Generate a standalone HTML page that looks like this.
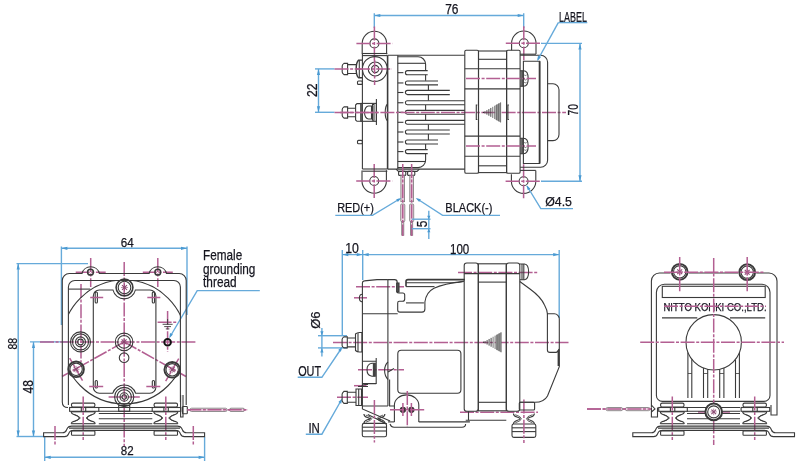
<!DOCTYPE html>
<html><head><meta charset="utf-8"><style>
*{margin:0;padding:0}
html,body{width:800px;height:470px;background:#fff;overflow:hidden}
svg{display:block;filter:blur(0.3px)}
.k{stroke:#3a3a3a;stroke-width:1.1;fill:none}
.c{stroke:#b35f92;stroke-width:1.5;fill:none;stroke-dasharray:14 1.6 3 1.6}
.d{stroke:#66aada;stroke-width:1.4;fill:none}
.ah{fill:#4a9ad2;stroke:none}
.tr{stroke:#777;stroke-width:0.8}
.trf{fill:#9a9a9a}
.s{stroke:#8c4a72;fill:none}
.w{stroke:#777;stroke-width:0.8;fill:#ecd3e0}
text{font-family:"Liberation Sans",sans-serif;fill:#15151f;stroke:#15151f;stroke-width:0.25}
</style></head>
<body><svg width="800" height="470" viewBox="0 0 800 470">
<line class="d" x1="374.3" y1="13.3" x2="374.3" y2="28" />
<line class="d" x1="523.7" y1="13.3" x2="523.7" y2="28" />
<line class="d" x1="374.3" y1="15.5" x2="523.7" y2="15.5" />
<path class="ah" d="M374.30,15.50 L380.30,13.90 L380.30,17.10 Z"/>
<path class="ah" d="M523.70,15.50 L517.70,17.10 L517.70,13.90 Z"/>
<text x="451.85" y="14.10" font-size="13.71" text-anchor="middle" textLength="13.27" lengthAdjust="spacingAndGlyphs">76</text>
<line class="d" x1="315" y1="68.9" x2="334.5" y2="68.9" />
<line class="d" x1="315" y1="112.3" x2="334.5" y2="112.3" />
<line class="d" x1="318.5" y1="68.9" x2="318.5" y2="112.3" />
<path class="ah" d="M318.50,68.90 L320.10,74.90 L316.90,74.90 Z"/>
<path class="ah" d="M318.50,112.30 L316.90,106.30 L320.10,106.30 Z"/>
<text x="316.60" y="90.30" font-size="13.71" text-anchor="middle" textLength="13.57" lengthAdjust="spacingAndGlyphs" transform="rotate(-90 316.60 90.30)" dy="0">22</text>
<path class="k" d="M362.2,53.9 V43.4 A12.2,12.2 0 0 1 386.59999999999997,43.4 V54.2" />
<circle class="k" cx="374.4" cy="43.4" r="4.5" />
<line class="c" x1="356.4" y1="43.4" x2="392.4" y2="43.4" />
<line class="c" x1="374.4" y1="26.4" x2="374.4" y2="60.4" />
<path class="k" d="M511.59999999999997,50.2 V43.2 A12.2,12.2 0 0 1 536.0,43.2 V54.0" />
<circle class="k" cx="523.8" cy="43.2" r="4.5" />
<line class="c" x1="505.79999999999995" y1="43.2" x2="541.8" y2="43.2" />
<line class="c" x1="523.8" y1="26.200000000000003" x2="523.8" y2="60.2" />
<path class="k" d="M362.0,170.5 V181.0 A12.2,12.2 0 0 0 386.4,181.0 V170.2" />
<circle class="k" cx="374.2" cy="181.0" r="4.5" />
<line class="c" x1="356.2" y1="181.0" x2="392.2" y2="181.0" />
<line class="c" x1="374.2" y1="164.0" x2="374.2" y2="198.0" />
<path class="k" d="M511.40000000000003,174.2 V181.2 A12.2,12.2 0 0 0 535.8000000000001,181.2 V170.39999999999998" />
<circle class="k" cx="523.6" cy="181.2" r="4.5" />
<line class="c" x1="505.6" y1="181.2" x2="541.6" y2="181.2" />
<line class="c" x1="523.6" y1="164.2" x2="523.6" y2="198.2" />
<line class="k" x1="362.4" y1="53.5" x2="362.4" y2="169" />
<line class="k" x1="362.4" y1="53.5" x2="387.3" y2="53.5" />
<line class="k" x1="362.4" y1="55.6" x2="387.3" y2="55.6" />
<line class="k" x1="362.4" y1="169" x2="387.3" y2="169" />
<line class="k" x1="362.4" y1="171.2" x2="387.3" y2="171.2" />
<circle class="k" cx="374.85" cy="69" r="12.4" />
<circle class="k" cx="375.2" cy="69" r="7" />
<circle class="k" cx="375.2" cy="69" r="3.6" />
<line class="c" x1="356" y1="69" x2="392" y2="69" />
<line class="c" x1="374.6" y1="60" x2="374.6" y2="85" />
<rect class="k" x="357.5" y="81" width="4.9" height="3.4" rx="1" />
<rect class="k" x="357.5" y="140.4" width="4.9" height="3.4" rx="1" />
<path class="k" d="M347.6,63.4 H344.0 Q342.2,64.7 342.2,65.9 V72.1 Q342.2,73.3 344.0,74.6 H347.6 Z" />
<path class="k" d="M347.5,64.6 H356.4 M347.5,73.5 H356.4" />
<path class="k" d="M362.4,60.1 H358.6 Q356.2,62 356.2,69 Q356.2,76 358.6,77.7 H362.4" style="stroke-width:1.4"/>
<line class="k" x1="359.3" y1="60.1" x2="359.3" y2="77.7" />
<line class="c" x1="334.5" y1="69" x2="362" y2="69" />
<path class="k" d="M347.6,106.9 H344.0 Q342.2,108.2 342.2,109.4 V115.6 Q342.2,116.8 344.0,118.1 H347.6 Z" />
<path class="k" d="M347.4,108.3 H355.6 M347.4,116.7 H355.6" />
<path class="k" d="M355.6,105 L357,103.6 H361 V121.3 H357 L355.6,120 Z" />
<rect class="k" x="361" y="103.4" width="15.4" height="17.9" rx="0" />
<path class="k" d="M368.5,106 A4,6.5 0 0 0 368.5,119 H371.5 V106 Z" />
<rect class="k" x="372.5" y="104.5" width="1.5" height="15.7" rx="0" />
<line class="k" x1="376.4" y1="99" x2="376.4" y2="125" />
<line class="c" x1="334.5" y1="112.5" x2="378" y2="112.5" />
<line class="k" x1="387.6" y1="55.3" x2="387.6" y2="169.1" style="stroke-width:1.6"/>
<path class="k" d="M387.6,104 Q385.2,106 385.2,112.5 Q385.2,119 387.6,121" />
<line class="k" x1="387.6" y1="55.3" x2="464.8" y2="55.3" />
<line class="k" x1="387.6" y1="169.1" x2="464.8" y2="169.1" />
<line class="k" x1="397.8" y1="55.3" x2="397.8" y2="169.1" />
<path class="k" d="M397.8,56.8 H418.1 A7.5,7.5 0 0 1 425.6,64.3 V80.8" />
<path class="k" d="M397.8,167.6 H418.1 A7.5,7.5 0 0 0 425.6,160.1 V143.8" />
<line class="k" x1="397.8" y1="63.3" x2="425.6" y2="63.3" />
<line class="k" x1="397.8" y1="161.5" x2="425.6" y2="161.5" />
<line class="k" x1="428.4" y1="84.9" x2="428.4" y2="100.8" />
<line class="k" x1="428.4" y1="124.2" x2="428.4" y2="140" />
<line class="k" x1="425.6" y1="104.7" x2="425.6" y2="120.4" />
<path class="k" d="M427.7,70.6 H407.45 A2.0500000000000043,2.0500000000000043 0 0 0 407.45,74.7 H427.7" style="fill:#fff"/>
<line class="k" x1="397.8" y1="72.65" x2="403.4" y2="72.65" />
<path class="k" d="M438,81 H407.34999999999997 A1.9500000000000028,1.9500000000000028 0 0 0 407.34999999999997,84.9 H438" style="fill:#fff"/>
<line class="k" x1="397.8" y1="82.95" x2="403.4" y2="82.95" />
<path class="k" d="M449.8,90.4 H407.5 A2.0999999999999943,2.0999999999999943 0 0 0 407.5,94.6 H449.8" style="fill:#fff"/>
<line class="k" x1="397.8" y1="92.5" x2="403.4" y2="92.5" />
<path class="k" d="M464.8,100.8 H407.34999999999997 A1.9500000000000028,1.9500000000000028 0 0 0 407.34999999999997,104.7 H464.8" style="fill:#fff"/>
<line class="k" x1="397.8" y1="102.75" x2="403.4" y2="102.75" />
<path class="k" d="M464.8,110.4 H407.29999999999995 A1.8999999999999986,1.8999999999999986 0 0 0 407.29999999999995,114.2 H464.8" style="fill:#fff"/>
<line class="k" x1="397.8" y1="112.30000000000001" x2="403.4" y2="112.30000000000001" />
<path class="k" d="M464.8,120.4 H407.29999999999995 A1.8999999999999986,1.8999999999999986 0 0 0 407.29999999999995,124.2 H464.8" style="fill:#fff"/>
<line class="k" x1="397.8" y1="122.30000000000001" x2="403.4" y2="122.30000000000001" />
<path class="k" d="M449.8,130 H407.4 A2.0,2.0 0 0 0 407.4,134 H449.8" style="fill:#fff"/>
<line class="k" x1="397.8" y1="132.0" x2="403.4" y2="132.0" />
<path class="k" d="M438,140 H407.4 A2.0,2.0 0 0 0 407.4,144 H438" style="fill:#fff"/>
<line class="k" x1="397.8" y1="142.0" x2="403.4" y2="142.0" />
<path class="k" d="M427.7,149.6 H407.4 A2.0,2.0 0 0 0 407.4,153.6 H427.7" style="fill:#fff"/>
<line class="k" x1="397.8" y1="151.6" x2="403.4" y2="151.6" />
<line class="c" x1="340" y1="112.4" x2="566" y2="112.4" />
<path class="k" d="M396,169.1 L398.5,171.4 H417 L419.4,169.1" />
<rect class="k" x="398.6" y="171.4" width="7.2" height="4" rx="1" />
<rect class="k" x="407.6" y="171.4" width="7.2" height="4" rx="1" />
<rect class="w" x="400.9" y="175.4" width="3.7" height="26.3" rx="0" />
<rect class="w" x="400.7" y="204" width="4.1" height="17.6" rx="1" />
<rect class="w" x="401.7" y="221.6" width="2.1" height="13.6" rx="0" />
<line class="c" x1="402.75" y1="164" x2="402.75" y2="236" />
<rect class="w" x="409.8" y="175.4" width="3.7" height="26.3" rx="0" />
<rect class="w" x="409.6" y="204" width="4.1" height="17.6" rx="1" />
<rect class="w" x="410.6" y="221.6" width="2.1" height="13.6" rx="0" />
<line class="c" x1="411.65000000000003" y1="164" x2="411.65000000000003" y2="236" />
<rect class="k" x="464.8" y="50.2" width="13.7" height="123" rx="1.3" />
<rect class="k" x="478.5" y="51" width="28.1" height="121.6" rx="0" />
<rect class="k" x="506.6" y="50.2" width="13.5" height="123" rx="1.3" />
<line class="k" x1="464.8" y1="68.8" x2="520.1" y2="68.8" />
<line class="k" x1="464.8" y1="88.9" x2="520.1" y2="88.9" />
<line class="k" x1="464.8" y1="136.1" x2="520.1" y2="136.1" />
<line class="k" x1="464.8" y1="156.2" x2="520.1" y2="156.2" />
<line class="k" x1="478.5" y1="59.3" x2="506.6" y2="59.3" />
<line class="k" x1="478.5" y1="165.8" x2="506.6" y2="165.8" />
<path class="trf" d="M495.40,105.35 L500.6,102.4 V122.4 L495.40,119.45 Z"/>
<line x1="484.96" y1="111.29" x2="484.96" y2="113.51" style="stroke:#333;stroke-width:0.9"/>
<line x1="486.91" y1="110.18" x2="486.91" y2="114.62" style="stroke:#333;stroke-width:0.9"/>
<line x1="488.87" y1="109.07" x2="488.87" y2="115.73" style="stroke:#333;stroke-width:0.9"/>
<line x1="490.82" y1="107.96" x2="490.82" y2="116.84" style="stroke:#333;stroke-width:0.9"/>
<line x1="492.78" y1="106.84" x2="492.78" y2="117.96" style="stroke:#666;stroke-width:0.9"/>
<line x1="494.73" y1="105.73" x2="494.73" y2="119.07" style="stroke:#666;stroke-width:0.9"/>
<line x1="496.69" y1="104.62" x2="496.69" y2="120.18" style="stroke:#666;stroke-width:0.9"/>
<line x1="498.64" y1="103.51" x2="498.64" y2="121.29" style="stroke:#666;stroke-width:0.9"/>
<line x1="500.60" y1="102.40" x2="500.60" y2="122.40" style="stroke:#666;stroke-width:0.9"/>
<circle cx="483.6" cy="112.4" r="0.7" style="fill:#333"/>
<path class="k" d="M477.3,105 H476.3 V119.5 H477.3" />
<path class="k" d="M508.9,105 H507.9 V119.5 H508.9" />
<path class="k" d="M520.1,70.7 H523.5 Q528.2,70.7 528.2,78.5 Q528.2,86.3 523.5,86.3 H520.1" />
<line class="k" x1="521.1" y1="70.7" x2="521.1" y2="86.3" />
<line class="k" x1="522.3" y1="70.7" x2="522.3" y2="86.3" />
<path class="k" d="M524.2,75.0 q1.2,1 2.4,0 M524.2,79.5 q1.2,1 2.4,0 M524.2,82.3 q1.2,1 2.4,0" style="stroke-width:0.7"/>
<line class="c" x1="466" y1="78.5" x2="536" y2="78.5" />
<path class="k" d="M520.1,138.2 H523.5 Q528.2,138.2 528.2,146 Q528.2,153.8 523.5,153.8 H520.1" />
<line class="k" x1="521.1" y1="138.2" x2="521.1" y2="153.8" />
<line class="k" x1="522.3" y1="138.2" x2="522.3" y2="153.8" />
<path class="k" d="M524.2,142.5 q1.2,1 2.4,0 M524.2,147 q1.2,1 2.4,0 M524.2,149.8 q1.2,1 2.4,0" style="stroke-width:0.7"/>
<line class="c" x1="466" y1="146" x2="536" y2="146" />
<path class="k" d="M520.1,54.2 H536" />
<path class="k" d="M520.1,170.4 H535.8" />
<path class="k" d="M523.4,163.5 V61.2 H539.6 V163.5 Z" />
<line class="k" x1="539.6" y1="61.2" x2="539.6" y2="163.5" style="stroke-width:1.8"/>
<path class="k" d="M520.1,55.3 H540.6 A7,7 0 0 1 547.6,62.3 V160.2 A7,7 0 0 1 540.6,167.2 H520.1" />
<path class="k" d="M547.6,83.8 H553 A6,6 0 0 1 559,89.8 V134.6 A6,6 0 0 1 553,140.6 H547.6" />
<line class="d" x1="541" y1="43.4" x2="582" y2="43.4" />
<line class="d" x1="541" y1="181.2" x2="582" y2="181.2" />
<line class="d" x1="580" y1="43.4" x2="580" y2="181.2" />
<path class="ah" d="M580.00,43.40 L581.60,49.40 L578.40,49.40 Z"/>
<path class="ah" d="M580.00,181.20 L578.40,175.20 L581.60,175.20 Z"/>
<text x="578.50" y="109.70" font-size="13.71" text-anchor="middle" textLength="11.57" lengthAdjust="spacingAndGlyphs" transform="rotate(-90 578.50 109.70)" dy="0">70</text>
<text x="573.05" y="21.60" font-size="13.86" text-anchor="middle" textLength="27.89" lengthAdjust="spacingAndGlyphs">LABEL</text>
<line class="d" x1="558.3" y1="22.6" x2="587.3" y2="22.6" />
<line class="d" x1="558.3" y1="22.6" x2="538" y2="59.5" />
<path class="ah" d="M537.20,61.00 L538.00,55.81 L540.87,57.24 Z"/>
<text x="558.60" y="206.40" font-size="13.57" text-anchor="middle" textLength="26.76" lengthAdjust="spacingAndGlyphs">Ø4.5</text>
<path class="d" d="M527,186 L540.8,208.6 H573" />
<path class="ah" d="M526.50,185.20 L530.47,188.63 L527.74,190.30 Z"/>
<text x="355.45" y="211.90" font-size="13.43" text-anchor="middle" textLength="36.64" lengthAdjust="spacingAndGlyphs">RED(+)</text>
<text x="468.90" y="211.90" font-size="13.43" text-anchor="middle" textLength="47.14" lengthAdjust="spacingAndGlyphs">BLACK(-)</text>
<path class="d" d="M335.3,215.4 H372.5 L399.5,199" />
<path class="ah" d="M401.30,198.00 L397.84,201.94 L396.19,199.20 Z"/>
<path class="d" d="M500,215.4 H442.6 L417.4,199" />
<path class="ah" d="M415.70,198.00 L420.81,199.20 L419.16,201.94 Z"/>
<line class="d" x1="411.8" y1="219.2" x2="430.5" y2="219.2" />
<line class="d" x1="411.8" y1="228.7" x2="430.5" y2="228.7" />
<line class="d" x1="428.8" y1="210.7" x2="428.8" y2="239" />
<path class="ah" d="M428.80,219.20 L427.20,215.70 L430.40,215.70 Z"/>
<path class="ah" d="M428.80,228.70 L430.40,232.20 L427.20,232.20 Z"/>
<text x="427.00" y="224.00" font-size="13.86" text-anchor="middle" textLength="6.59" lengthAdjust="spacingAndGlyphs" transform="rotate(-90 427.00 224.00)" dy="0">5</text>
<line class="d" x1="61.4" y1="246.5" x2="61.4" y2="325" />
<line class="d" x1="187" y1="246.5" x2="187" y2="315" />
<line class="d" x1="61.4" y1="248.3" x2="187" y2="248.3" />
<path class="ah" d="M61.40,248.30 L67.40,246.70 L67.40,249.90 Z"/>
<path class="ah" d="M187.00,248.30 L181.00,249.90 L181.00,246.70 Z"/>
<text x="127.20" y="247.00" font-size="13.43" text-anchor="middle" textLength="12.94" lengthAdjust="spacingAndGlyphs">64</text>
<line class="d" x1="16.5" y1="263.6" x2="88" y2="263.6" />
<line class="d" x1="16.5" y1="436.5" x2="44" y2="436.5" />
<line class="d" x1="18.2" y1="263.6" x2="18.2" y2="436.5" />
<path class="ah" d="M18.20,263.60 L19.80,269.60 L16.60,269.60 Z"/>
<path class="ah" d="M18.20,436.50 L16.60,430.50 L19.80,430.50 Z"/>
<text x="16.70" y="343.75" font-size="12.86" text-anchor="middle" textLength="11.59" lengthAdjust="spacingAndGlyphs" transform="rotate(-90 16.70 343.75)" dy="0">88</text>
<line class="d" x1="30" y1="341.9" x2="68" y2="341.9" />
<line class="d" x1="33.5" y1="341.9" x2="33.5" y2="436.5" />
<path class="ah" d="M33.50,341.90 L35.10,347.90 L31.90,347.90 Z"/>
<path class="ah" d="M33.50,436.50 L31.90,430.50 L35.10,430.50 Z"/>
<text x="32.70" y="386.80" font-size="13.71" text-anchor="middle" textLength="13.37" lengthAdjust="spacingAndGlyphs" transform="rotate(-90 32.70 386.80)" dy="0">48</text>
<line class="d" x1="44.7" y1="437" x2="44.7" y2="461" />
<line class="d" x1="204.6" y1="437" x2="204.6" y2="461" />
<line class="d" x1="44.7" y1="457.3" x2="204.6" y2="457.3" />
<path class="ah" d="M44.70,457.30 L50.70,455.70 L50.70,458.90 Z"/>
<path class="ah" d="M204.60,457.30 L198.60,458.90 L198.60,455.70 Z"/>
<text x="127.15" y="455.30" font-size="13.29" text-anchor="middle" textLength="12.83" lengthAdjust="spacingAndGlyphs">82</text>
<text x="222.65" y="259.60" font-size="14.29" text-anchor="middle" textLength="39.13" lengthAdjust="spacingAndGlyphs">Female</text>
<text x="229.25" y="273.80" font-size="14.29" text-anchor="middle" textLength="52.33" lengthAdjust="spacingAndGlyphs">grounding</text>
<text x="219.85" y="287.20" font-size="14.29" text-anchor="middle" textLength="33.53" lengthAdjust="spacingAndGlyphs">thread</text>
<path class="d" d="M259.8,290.6 H197.2 L170.2,336.5" />
<path class="ah" d="M169.30,338.20 L170.02,333.00 L172.91,334.38 Z"/>
<line class="c" x1="124.2" y1="262" x2="124.2" y2="446" />
<line class="c" x1="40" y1="341.9" x2="196" y2="341.9" />
<line class="c" x1="81" y1="284" x2="81" y2="362" />
<line class="c" x1="90.7" y1="258" x2="90.7" y2="287" />
<line class="c" x1="75.7" y1="272.3" x2="105.7" y2="272.3" />
<line class="c" x1="157.8" y1="258" x2="157.8" y2="287" />
<line class="c" x1="142.8" y1="272.3" x2="172.8" y2="272.3" />
<line class="c" x1="124.2" y1="341.9" x2="62" y2="376.5" />
<line class="c" x1="124.2" y1="341.9" x2="186" y2="376.5" />
<line class="c" x1="82.53462606936247" y1="380.5958216765086" x2="69.66537393063751" y2="358.00417832349143" />
<line class="c" x1="178.73284498462175" y1="358.56069680065076" x2="165.66715501537823" y2="381.03930319934926" />
<line class="c" x1="108.6" y1="397" x2="139.8" y2="397" />
<line class="c" x1="167.6" y1="311" x2="167.6" y2="352" />
<line class="c" x1="157.6" y1="322.3" x2="177.5" y2="322.3" />
<path class="k" d="M62.3,402 V280.5 A7,7 0 0 1 69.3,273.5 H82 A9,9 0 0 1 99.4,273.5 H149.1 A9,9 0 0 1 166.5,273.5 H179.2 A7,7 0 0 1 186.2,280.5 V405" />
<circle class="k" cx="90.5" cy="272.2" r="2.9" style="stroke-width:1.5"/>
<circle class="k" cx="157.8" cy="272.2" r="2.9" style="stroke-width:1.5"/>
<path class="k" d="M62.3,402 Q62.3,407.5 68,407.5" />
<path class="k" d="M68.4,405 V287 A6.5,6.5 0 0 1 74.9,280.5 H173.9 A6.5,6.5 0 0 1 180.4,287 V402" />
<clipPath id="cl1"><rect x="68.4" y="280.5" width="112" height="128"/></clipPath>
<circle class="k" cx="124.2" cy="341.9" r="62" clip-path="url(#cl1)"/>
<line class="k" x1="68.4" y1="289.1" x2="90.3" y2="289.1" />
<path class="k" d="M93.3,296 A6,6 0 0 1 99.3,290 H113 A11.5,11.5 0 0 0 135.4,290 H149.9 A6,6 0 0 1 155.9,296 V387.2 A6,6 0 0 1 149.9,393.2 H135.6 A12,12 0 0 0 112.8,393.2 H99.3 A6,6 0 0 1 93.3,387.2 Z" />
<rect class="k" x="95.2" y="292" width="2.2" height="11" rx="1.1" />
<rect class="k" x="95.2" y="380.5" width="2.2" height="7.5" rx="1.1" />
<line class="c" x1="90.2" y1="297.5" x2="103.2" y2="297.5" />
<line class="c" x1="89.2" y1="386.5" x2="103.2" y2="386.5" />
<rect class="k" x="152.3" y="292" width="2.2" height="11" rx="1.1" />
<rect class="k" x="152.3" y="380.5" width="2.2" height="7.5" rx="1.1" />
<line class="c" x1="147.3" y1="297.5" x2="160.3" y2="297.5" />
<line class="c" x1="146.3" y1="386.5" x2="160.3" y2="386.5" />
<circle class="k" cx="124.5" cy="287.5" r="8.4" style="stroke-width:1.6"/>
<circle class="k" cx="124.5" cy="287.5" r="6.3" />
<line class="s" x1="122.03" y1="285.03" x2="126.97" y2="289.97" style="stroke-width:1.1"/>
<line class="s" x1="126.97" y1="285.03" x2="122.03" y2="289.97" style="stroke-width:1.1"/>
<line class="s" x1="121.00" y1="287.50" x2="128.00" y2="287.50" style="stroke-width:0.6"/>
<line class="s" x1="124.50" y1="284.00" x2="124.50" y2="291.00" style="stroke-width:0.6"/>
<circle class="k" cx="76.1" cy="369.3" r="7.8" style="stroke-width:1.9"/>
<circle class="k" cx="76.1" cy="369.3" r="6.2" />
<line class="s" x1="73.69" y1="366.89" x2="78.51" y2="371.71" style="stroke-width:1.1"/>
<line class="s" x1="78.51" y1="366.89" x2="73.69" y2="371.71" style="stroke-width:1.1"/>
<line class="s" x1="72.69" y1="369.30" x2="79.51" y2="369.30" style="stroke-width:0.6"/>
<line class="s" x1="76.10" y1="365.89" x2="76.10" y2="372.71" style="stroke-width:0.6"/>
<circle class="k" cx="172.2" cy="369.8" r="7.8" style="stroke-width:1.9"/>
<circle class="k" cx="172.2" cy="369.8" r="6.2" />
<line class="s" x1="169.79" y1="367.39" x2="174.61" y2="372.21" style="stroke-width:1.1"/>
<line class="s" x1="174.61" y1="367.39" x2="169.79" y2="372.21" style="stroke-width:1.1"/>
<line class="s" x1="168.79" y1="369.80" x2="175.61" y2="369.80" style="stroke-width:0.6"/>
<line class="s" x1="172.20" y1="366.39" x2="172.20" y2="373.21" style="stroke-width:0.6"/>
<circle class="k" cx="124.1" cy="341.9" r="8.8" />
<circle class="k" cx="124.1" cy="341.9" r="6.4" />
<line class="s" x1="121.61" y1="339.41" x2="126.59" y2="344.39" style="stroke-width:1.1"/>
<line class="s" x1="126.59" y1="339.41" x2="121.61" y2="344.39" style="stroke-width:1.1"/>
<line class="s" x1="120.58" y1="341.90" x2="127.62" y2="341.90" style="stroke-width:0.6"/>
<line class="s" x1="124.10" y1="338.38" x2="124.10" y2="345.42" style="stroke-width:0.6"/>
<circle class="k" cx="124.1" cy="357.7" r="4.8" />
<circle class="k" cx="80.5" cy="341.9" r="10" />
<circle class="k" cx="80.5" cy="341.9" r="8" />
<circle class="k" cx="80.5" cy="341.9" r="5" />
<circle class="k" cx="80.5" cy="341.9" r="2.8" />
<circle class="k" cx="124.2" cy="397" r="9.6" />
<circle class="k" cx="124.2" cy="397" r="7.2" />
<circle class="k" cx="124.2" cy="397" r="4.2" />
<circle class="k" cx="124.2" cy="397" r="2.2" />
<circle class="k" cx="167.6" cy="342.3" r="3.3" style="stroke-width:1.9;stroke:#111"/>
<line class="k" x1="162.6" y1="324.3" x2="172.6" y2="324.3" style="stroke-width:0.9"/>
<line class="k" x1="164.2" y1="326.6" x2="171.0" y2="326.6" style="stroke-width:0.9"/>
<line class="k" x1="165.79999999999998" y1="328.9" x2="169.4" y2="328.9" style="stroke-width:0.9"/>
<line class="k" x1="167.6" y1="319" x2="167.6" y2="324.3" style="stroke-width:0.9"/>
<rect class="k" x="71.5" y="403.1" width="23.4" height="3.9" rx="1.5" />
<rect class="k" x="69.60000000000001" y="407.5" width="29.2" height="3.8" rx="0" />
<line class="k" x1="81.3" y1="407.5" x2="81.3" y2="411.3" />
<line class="k" x1="85.7" y1="407.5" x2="85.7" y2="411.3" />
<path class="k" d="M71.2,411.8 Q71.2,414 75.2,415 Q79.2,416.5 79.2,418 Q79.2,419.5 75.2,421 Q71.2,422 71.2,423.7" />
<path class="k" d="M73.7,414.3 Q78.0,415.6 80.4,418 Q78.0,420.4 73.7,421.6" style="stroke-width:0.8"/>
<path class="k" d="M95.2,411.8 Q95.2,414 91.2,415 Q87.2,416.5 87.2,418 Q87.2,419.5 91.2,421 Q95.2,422 95.2,423.7" />
<path class="k" d="M92.7,414.3 Q88.4,415.6 86.0,418 Q88.4,420.4 92.7,421.6" style="stroke-width:0.8"/>
<line class="k" x1="71.2" y1="411.8" x2="95.2" y2="411.8" />
<line class="k" x1="71.2" y1="423.7" x2="95.2" y2="423.7" />
<line class="c" x1="83.2" y1="396.5" x2="83.2" y2="440" />
<rect class="k" x="154.10000000000002" y="403.1" width="23.4" height="3.9" rx="1.5" />
<rect class="k" x="152.20000000000002" y="407.5" width="28.6" height="3.8" rx="0" />
<line class="k" x1="163.9" y1="407.5" x2="163.9" y2="411.3" />
<line class="k" x1="168.3" y1="407.5" x2="168.3" y2="411.3" />
<path class="k" d="M153.8,411.8 Q153.8,414 157.8,415 Q161.8,416.5 161.8,418 Q161.8,419.5 157.8,421 Q153.8,422 153.8,423.7" />
<path class="k" d="M156.3,414.3 Q160.60000000000002,415.6 163.0,418 Q160.60000000000002,420.4 156.3,421.6" style="stroke-width:0.8"/>
<path class="k" d="M177.8,411.8 Q177.8,414 173.8,415 Q169.8,416.5 169.8,418 Q169.8,419.5 173.8,421 Q177.8,422 177.8,423.7" />
<path class="k" d="M175.3,414.3 Q171.0,415.6 168.60000000000002,418 Q171.0,420.4 175.3,421.6" style="stroke-width:0.8"/>
<line class="k" x1="153.8" y1="411.8" x2="177.8" y2="411.8" />
<line class="k" x1="153.8" y1="423.7" x2="177.8" y2="423.7" />
<line class="c" x1="165.8" y1="396.5" x2="165.8" y2="440" />
<line class="k" x1="98.8" y1="413.5" x2="152.3" y2="413.5" />
<line class="k" x1="98.8" y1="418.7" x2="152.3" y2="418.7" />
<line class="k" x1="98.8" y1="423.7" x2="152.3" y2="423.7" />
<line class="k" x1="98.8" y1="407.5" x2="152.3" y2="407.5" />
<line class="k" x1="98.8" y1="411.3" x2="152.3" y2="411.3" />
<rect class="k" x="118.7" y="405.5" width="11" height="5.8" rx="0" />
<path class="k" d="M43.6,432.8 H62.5 Q65.5,432.8 66.5,430 L67.5,428 Q68.5,426.1 71.5,426.1 H177.5 Q180.5,426.1 181.5,428 L182.5,430 Q183.5,432.8 186.5,432.8 H204.6 V436.6 H184.5 Q181.5,436.6 180.5,434 L179.5,432 Q178.5,430.4 175.5,430.4 H73.5 Q70.5,430.4 69.5,432 L68.5,434 Q67.5,436.6 64.5,436.6 H43.6 Z" />
<line class="k" x1="69" y1="428.1" x2="180" y2="428.1" />
<rect class="k" x="71.5" y="430.9" width="23.4" height="4.3" rx="0.8" />
<rect class="k" x="154.10000000000002" y="430.9" width="23.4" height="4.3" rx="0.8" />
<line class="c" x1="55" y1="426" x2="55" y2="446" />
<line class="c" x1="193.3" y1="426" x2="193.3" y2="446" />
<path class="k" d="M180.6,395 V417 H183 V395" />
<rect class="k" x="182.5" y="406.5" width="4.8" height="7.2" rx="0.8" />
<line class="c" x1="187.3" y1="409.8" x2="248" y2="409.8" />
<rect class="w" x="190" y="408.2" width="37" height="3.3" rx="1.5" />
<rect class="w" x="229.5" y="408.2" width="15" height="3.3" rx="1.5" />
<line class="c" x1="187.3" y1="409.8" x2="248" y2="409.8" />
<line class="d" x1="342.3" y1="250" x2="342.3" y2="336" />
<line class="d" x1="362.7" y1="250" x2="362.7" y2="280" />
<line class="d" x1="559.2" y1="250" x2="559.2" y2="318" />
<line class="d" x1="342.3" y1="254.6" x2="558.9" y2="254.6" />
<path class="ah" d="M342.30,254.60 L348.30,253.00 L348.30,256.20 Z"/>
<path class="ah" d="M362.70,254.60 L356.70,256.20 L356.70,253.00 Z"/>
<path class="ah" d="M362.70,254.60 L368.70,253.00 L368.70,256.20 Z"/>
<path class="ah" d="M559.20,254.60 L553.20,256.20 L553.20,253.00 Z"/>
<text x="352.05" y="252.80" font-size="13.86" text-anchor="middle" textLength="13.69" lengthAdjust="spacingAndGlyphs">10</text>
<text x="459.65" y="253.80" font-size="13.86" text-anchor="middle" textLength="19.29" lengthAdjust="spacingAndGlyphs">100</text>
<line class="d" x1="318" y1="335.7" x2="347" y2="335.7" />
<line class="d" x1="318" y1="347.9" x2="347" y2="347.9" />
<line class="d" x1="321.9" y1="328" x2="321.9" y2="356.6" />
<path class="ah" d="M321.90,335.70 L320.30,331.20 L323.50,331.20 Z"/>
<path class="ah" d="M321.90,347.90 L323.50,352.40 L320.30,352.40 Z"/>
<text x="320.40" y="320.10" font-size="13.14" text-anchor="middle" textLength="17.31" lengthAdjust="spacingAndGlyphs" transform="rotate(-90 320.40 320.10)" dy="0">Ø6</text>
<text x="309.65" y="375.60" font-size="14.29" text-anchor="middle" textLength="22.93" lengthAdjust="spacingAndGlyphs">OUT</text>
<path class="d" d="M297.7,377.3 H321.9 L341,349" />
<path class="ah" d="M342.30,346.80 L340.87,351.85 L338.20,350.08 Z"/>
<text x="314.15" y="432.80" font-size="13.86" text-anchor="middle" textLength="11.49" lengthAdjust="spacingAndGlyphs">IN</text>
<path class="d" d="M305.8,434.2 H321.9 L340.8,401" />
<path class="ah" d="M342.30,398.50 L341.17,403.63 L338.40,402.02 Z"/>
<line class="c" x1="333" y1="342.4" x2="568.5" y2="342.4" />
<line class="c" x1="356" y1="286.7" x2="404" y2="286.7" />
<line class="c" x1="354" y1="297.8" x2="367" y2="297.8" />
<line class="c" x1="458" y1="272.6" x2="538" y2="272.6" />
<line class="c" x1="358" y1="369.8" x2="404" y2="369.8" />
<line class="c" x1="460" y1="412.2" x2="538" y2="412.2" />
<line class="c" x1="337" y1="397.2" x2="368" y2="397.2" />
<line class="c" x1="354" y1="385.7" x2="366.5" y2="385.7" />
<path class="k" d="M362.4,406 V283 Q362.4,281 364.4,280.9 L377,279.6 H387.9" />
<line class="k" x1="387.9" y1="279.6" x2="387.9" y2="406" />
<path class="k" d="M387.9,279.6 H394.6 A2.6,2.6 0 0 1 397.2,282.2 V291.7 Q397.2,293 399,293 H402.7 Q404.7,293 404.7,295 V299 Q404.7,301.3 402.5,301.3 H399.2 Q397.7,301.3 397.7,303 V310 Q397.7,312.1 400,312.1 H422 Q424.9,312.1 424.9,309 V302 C425.6,296 427.5,291.5 434,288.2 C440,285.4 450,283 463.8,281.4" />
<rect class="k" x="396.7" y="283" width="2.3" height="9" rx="0" style="fill:#555"/>
<path class="k" d="M406,286.6 V281.6 Q406,279.6 408,279.6 H464.8" style="stroke-width:1.6"/>
<path class="k" d="M406,282.8 H452 Q458,282.8 463.8,281.2" />
<path class="k" d="M406,286.6 H434.5" />
<line class="k" x1="406" y1="302.9" x2="423.9" y2="302.9" />
<line class="k" x1="362.7" y1="313.8" x2="397.7" y2="313.8" />
<path class="k" d="M362.4,294.2 A3,3.85 0 0 0 362.4,301.9" />
<rect class="k" x="397.8" y="350.2" width="63.1" height="43" rx="3.5" />
<path class="k" d="M375.3,363.3 H372 Q367,364 367,369.8 Q367,375.6 372,376.3 H375.3 Z" />
<line class="k" x1="373.4" y1="363.3" x2="373.4" y2="376.3" />
<line class="k" x1="374.4" y1="363.3" x2="374.4" y2="376.3" />
<path class="k" d="M362.4,361.3 H376.2 M362.4,383.6 H376.2" />
<line class="k" x1="376.2" y1="358" x2="376.2" y2="384" />
<path class="k" d="M388,362 Q384.6,365 384.6,370.5 Q384.6,376 388,379.5 M388,372 L394,368.5" />
<line class="k" x1="389.6" y1="379.5" x2="389.6" y2="406" />
<path class="k" d="M347.3,336.9 H343.90000000000003 Q342.1,338.2 342.1,339.4 V345.4 Q342.1,346.59999999999997 343.90000000000003,347.9 H347.3 Z" />
<path class="k" d="M347.2,338 H355.5 M347.2,346.9 H355.5" />
<path class="k" d="M355.5,334 Q357,332.5 359.5,332.5 H361.9 V352 H359.5 Q357,352 355.5,350.5 Z" />
<line class="k" x1="358" y1="333" x2="358" y2="351.5" />
<path class="k" d="M347.3,391.4 H343.90000000000003 Q342.1,393.09999999999997 342.1,394.29999999999995 V400.5 Q342.1,401.7 343.90000000000003,403.4 H347.3 Z" />
<path class="k" d="M347.2,392.3 H356 M347.2,402.2 H356" />
<path class="k" d="M356,389 H361.5 V405.5 H356 Z" />
<line class="k" x1="358.7" y1="389" x2="358.7" y2="405.5" />
<path class="k" d="M361.5,386.5 Q362.4,384.5 365,384.5 H368 M358,386.5 H368" />
<path class="k" d="M362.4,406 V409 L390.1,420.9 M367.8,414.5 L386.9,424" />
<path class="k" d="M362.4,406 H387.9 M389,406 H394.4" />
<path class="k" d="M394.4,421.9 V405 A12.2,10.1 0 0 1 418.8,405 V421.9" />
<circle class="k" cx="402.9" cy="409.8" r="2.6" style="fill:#4a2a3a"/>
<circle class="k" cx="411.4" cy="409.8" r="2.6" style="fill:#4a2a3a"/>
<line class="c" x1="407.3" y1="391" x2="407.3" y2="427" />
<line class="c" x1="390" y1="409.8" x2="425" y2="409.8" />
<line class="c" x1="402.9" y1="403" x2="402.9" y2="416" />
<line class="c" x1="411.4" y1="403" x2="411.4" y2="416" />
<path class="k" d="M418.8,421.9 H469.9" />
<path class="k" d="M390,424 Q391,427.2 394,427.2 H462 Q465.6,427.2 465.6,424" />
<line class="k" x1="394.4" y1="421.9" x2="388" y2="421.9" />
<rect class="k" x="464.2" y="263" width="14.1" height="148.3" rx="2.6" />
<rect class="k" x="478.3" y="263.8" width="28" height="147" rx="0" />
<rect class="k" x="506.3" y="263" width="13.5" height="148.3" rx="2.6" />
<line class="k" x1="478.3" y1="282.1" x2="506.3" y2="282.1" />
<line class="k" x1="464.2" y1="273.6" x2="519.8" y2="273.6" />
<line class="k" x1="478.3" y1="402.3" x2="506.3" y2="402.3" />
<line class="k" x1="465.7" y1="420.2" x2="506.3" y2="420.2" />
<path class="trf" d="M495.90,335.19 L501.1,332.3 V352.3 L495.90,349.41 Z"/>
<line x1="485.10" y1="341.19" x2="485.10" y2="343.41" style="stroke:#333;stroke-width:0.9"/>
<line x1="487.10" y1="340.08" x2="487.10" y2="344.52" style="stroke:#333;stroke-width:0.9"/>
<line x1="489.10" y1="338.97" x2="489.10" y2="345.63" style="stroke:#333;stroke-width:0.9"/>
<line x1="491.10" y1="337.86" x2="491.10" y2="346.74" style="stroke:#333;stroke-width:0.9"/>
<line x1="493.10" y1="336.74" x2="493.10" y2="347.86" style="stroke:#666;stroke-width:0.9"/>
<line x1="495.10" y1="335.63" x2="495.10" y2="348.97" style="stroke:#666;stroke-width:0.9"/>
<line x1="497.10" y1="334.52" x2="497.10" y2="350.08" style="stroke:#666;stroke-width:0.9"/>
<line x1="499.10" y1="333.41" x2="499.10" y2="351.19" style="stroke:#666;stroke-width:0.9"/>
<line x1="501.10" y1="332.30" x2="501.10" y2="352.30" style="stroke:#666;stroke-width:0.9"/>
<circle cx="483.70000000000005" cy="342.3" r="0.7" style="fill:#333"/>
<path class="k" d="M519.8,264 H524.5 Q528.6,264.5 528.6,271.8 Q528.6,279.2 524.5,279.7 H519.8" />
<line class="k" x1="522" y1="264" x2="522" y2="279.7" />
<line class="k" x1="523.8" y1="264" x2="523.8" y2="279.7" />
<path class="k" d="M519.8,281.5 L530,289 Q541,297 544.5,305 Q547.2,310 547.4,313.8 H554.3 A5,5 0 0 1 559.3,318.8 V366.6 L547.5,396 Q544,402.3 535,402.3 H519.8" />
<path class="k" d="M547.4,313.8 V350 Q547.4,352.4 550,352.4 H556 Q558,352.4 559,349" />
<line class="k" x1="558.5" y1="350" x2="558.5" y2="366" style="stroke-width:1.8"/>
<path class="k" d="M363.9,413.9 Q363.9,416.4 367.4,417.5 Q370.59999999999997,418.5 370.59999999999997,418.65 Q370.59999999999997,418.79999999999995 367.4,419.79999999999995 Q363.9,420.9 363.9,423.4" />
<path class="k" d="M365.79999999999995,415.09999999999997 Q371.79999999999995,416.9 371.79999999999995,418.65 Q371.79999999999995,420.4 365.79999999999995,422.2" style="stroke-width:0.8"/>
<path class="k" d="M384.9,413.9 Q384.9,416.4 381.4,417.5 Q378.2,418.5 378.2,418.65 Q378.2,418.79999999999995 381.4,419.79999999999995 Q384.9,420.9 384.9,423.4" />
<path class="k" d="M383.0,415.09999999999997 Q377.0,416.9 377.0,418.65 Q377.0,420.4 383.0,422.2" style="stroke-width:0.8"/>
<rect class="k" x="362.29999999999995" y="423.4" width="24.2" height="13.4" rx="1.8" />
<line class="k" x1="362.29999999999995" y1="427.2" x2="386.5" y2="427.2" />
<line class="k" x1="362.29999999999995" y1="431.0" x2="386.5" y2="431.0" />
<line class="c" x1="374.4" y1="399.9" x2="374.4" y2="442.4" />
<path class="k" d="M513.4,413.5 Q513.4,416.0 516.9,417.1 Q520.1,418.1 520.1,418.75 Q520.1,419.4 516.9,420.4 Q513.4,421.5 513.4,424.0" />
<path class="k" d="M515.3,414.7 Q521.3,416.5 521.3,418.75 Q521.3,421.0 515.3,422.8" style="stroke-width:0.8"/>
<path class="k" d="M534.4,413.5 Q534.4,416.0 530.9,417.1 Q527.6999999999999,418.1 527.6999999999999,418.75 Q527.6999999999999,419.4 530.9,420.4 Q534.4,421.5 534.4,424.0" />
<path class="k" d="M532.5,414.7 Q526.5,416.5 526.5,418.75 Q526.5,421.0 532.5,422.8" style="stroke-width:0.8"/>
<rect class="k" x="512.0" y="424.0" width="23.8" height="13.4" rx="1.8" />
<line class="k" x1="512.0" y1="427.8" x2="535.8" y2="427.8" />
<line class="k" x1="512.0" y1="431.6" x2="535.8" y2="431.6" />
<line class="c" x1="523.9" y1="399.5" x2="523.9" y2="443.0" />
<rect class="k" x="519.3" y="402.3" width="15.3" height="7.7" rx="1" />
<line class="k" x1="468.5" y1="411.3" x2="468.5" y2="420.2" />
<path class="k" d="M651.4,407.5 V281 A8,8 0 0 1 659.4,273 H670.6 M688.6,273 H738.2 M756.2,273 H769 A8,8 0 0 1 777,281 V405" />
<path class="k" d="M656.4,395.4 V292.3 A8,8 0 0 1 664.4,284.3 H762 A8,8 0 0 1 770,292.3 V395.4 A6,6 0 0 1 764,401.4 H662.4 A6,6 0 0 1 656.4,395.4 Z" />
<rect class="k" x="662.3" y="286.3" width="102.9" height="11.2" rx="0" />
<text x="715.00" y="310.70" font-size="11.29" text-anchor="middle" textLength="103.13" lengthAdjust="spacingAndGlyphs">NITTO KOHKI CO.,LTD.</text>
<line class="k" x1="662" y1="317.9" x2="697.3" y2="317.9" />
<line class="k" x1="730" y1="317.9" x2="765.2" y2="317.9" />
<circle class="k" cx="713.7" cy="342.3" r="27.7" />
<line class="k" x1="687.9" y1="352.38216246645516" x2="687.9" y2="398" />
<line class="k" x1="691.8" y1="359.26113203769125" x2="691.8" y2="398" />
<line class="k" x1="687.9" y1="373.5" x2="691.8" y2="373.5" style="stroke-width:0.8"/>
<line class="k" x1="703.5" y1="368.0536405193518" x2="703.5" y2="398" />
<line class="k" x1="707.7" y1="369.3423741561277" x2="707.7" y2="398" />
<line class="k" x1="703.5" y1="373.5" x2="707.7" y2="373.5" style="stroke-width:0.8"/>
<line class="k" x1="719.7" y1="369.3423741561277" x2="719.7" y2="398" />
<line class="k" x1="723.9" y1="368.05364051935186" x2="723.9" y2="398" />
<line class="k" x1="719.7" y1="373.5" x2="723.9" y2="373.5" style="stroke-width:0.8"/>
<line class="k" x1="735.5" y1="359.3894704423514" x2="735.5" y2="398" />
<line class="k" x1="739.4" y1="352.6344085462112" x2="739.4" y2="398" />
<line class="k" x1="735.5" y1="373.5" x2="739.4" y2="373.5" style="stroke-width:0.8"/>
<circle class="k" cx="679.7" cy="271.8" r="7.8999999999999995" style="stroke-width:1.9"/>
<circle class="k" cx="679.7" cy="271.8" r="6.2" />
<line class="s" x1="677.29" y1="269.39" x2="682.11" y2="274.21" style="stroke-width:1.1"/>
<line class="s" x1="682.11" y1="269.39" x2="677.29" y2="274.21" style="stroke-width:1.1"/>
<line class="s" x1="676.29" y1="271.80" x2="683.11" y2="271.80" style="stroke-width:0.6"/>
<line class="s" x1="679.70" y1="268.39" x2="679.70" y2="275.21" style="stroke-width:0.6"/>
<circle class="k" cx="747.2" cy="272.2" r="7.8999999999999995" style="stroke-width:1.9"/>
<circle class="k" cx="747.2" cy="272.2" r="6.2" />
<line class="s" x1="744.79" y1="269.79" x2="749.61" y2="274.61" style="stroke-width:1.1"/>
<line class="s" x1="749.61" y1="269.79" x2="744.79" y2="274.61" style="stroke-width:1.1"/>
<line class="s" x1="743.79" y1="272.20" x2="750.61" y2="272.20" style="stroke-width:0.6"/>
<line class="s" x1="747.20" y1="268.79" x2="747.20" y2="275.61" style="stroke-width:0.6"/>
<line class="c" x1="640.2" y1="342.2" x2="784" y2="342.2" />
<line class="c" x1="664" y1="306.3" x2="766" y2="306.3" />
<line class="c" x1="713.7" y1="258" x2="713.7" y2="445" />
<line class="c" x1="679.7" y1="257" x2="679.7" y2="292" />
<line class="c" x1="747.2" y1="257" x2="747.2" y2="292" />
<line class="c" x1="664" y1="272.2" x2="764" y2="272.2" />
<line class="c" x1="698" y1="411.9" x2="730" y2="411.9" />
<rect class="k" x="660.5999999999999" y="403.1" width="23.4" height="3.9" rx="1.5" />
<rect class="k" x="658.6999999999999" y="407.5" width="28.6" height="3.8" rx="0" />
<line class="k" x1="670.4" y1="407.5" x2="670.4" y2="411.3" />
<line class="k" x1="674.8" y1="407.5" x2="674.8" y2="411.3" />
<path class="k" d="M660.3,411.8 Q660.3,414 664.3,415 Q668.3,416.5 668.3,418 Q668.3,419.5 664.3,421 Q660.3,422 660.3,423.7" />
<path class="k" d="M662.8,414.3 Q667.0999999999999,415.6 669.5,418 Q667.0999999999999,420.4 662.8,421.6" style="stroke-width:0.8"/>
<path class="k" d="M684.3,411.8 Q684.3,414 680.3,415 Q676.3,416.5 676.3,418 Q676.3,419.5 680.3,421 Q684.3,422 684.3,423.7" />
<path class="k" d="M681.8,414.3 Q677.5,415.6 675.0999999999999,418 Q677.5,420.4 681.8,421.6" style="stroke-width:0.8"/>
<line class="k" x1="660.3" y1="411.8" x2="684.3" y2="411.8" />
<line class="k" x1="660.3" y1="423.7" x2="684.3" y2="423.7" />
<line class="c" x1="672.3" y1="396.5" x2="672.3" y2="440" />
<rect class="k" x="660.5999999999999" y="430.9" width="23.4" height="4.3" rx="0.8" />
<rect class="k" x="743.0" y="403.1" width="23.4" height="3.9" rx="1.5" />
<rect class="k" x="741.1" y="407.5" width="28.6" height="3.8" rx="0" />
<line class="k" x1="752.8000000000001" y1="407.5" x2="752.8000000000001" y2="411.3" />
<line class="k" x1="757.2" y1="407.5" x2="757.2" y2="411.3" />
<path class="k" d="M742.7,411.8 Q742.7,414 746.7,415 Q750.7,416.5 750.7,418 Q750.7,419.5 746.7,421 Q742.7,422 742.7,423.7" />
<path class="k" d="M745.2,414.3 Q749.5,415.6 751.9000000000001,418 Q749.5,420.4 745.2,421.6" style="stroke-width:0.8"/>
<path class="k" d="M766.7,411.8 Q766.7,414 762.7,415 Q758.7,416.5 758.7,418 Q758.7,419.5 762.7,421 Q766.7,422 766.7,423.7" />
<path class="k" d="M764.2,414.3 Q759.9000000000001,415.6 757.5,418 Q759.9000000000001,420.4 764.2,421.6" style="stroke-width:0.8"/>
<line class="k" x1="742.7" y1="411.8" x2="766.7" y2="411.8" />
<line class="k" x1="742.7" y1="423.7" x2="766.7" y2="423.7" />
<line class="c" x1="754.7" y1="396.5" x2="754.7" y2="440" />
<rect class="k" x="743.0" y="430.9" width="23.4" height="4.3" rx="0.8" />
<line class="k" x1="687" y1="413.5" x2="740" y2="413.5" />
<line class="k" x1="687" y1="418.7" x2="740" y2="418.7" />
<line class="k" x1="687" y1="423.7" x2="740" y2="423.7" />
<line class="k" x1="687" y1="407.5" x2="740" y2="407.5" />
<line class="k" x1="687" y1="411.3" x2="740" y2="411.3" />
<path class="k" d="M632.8,432.8 H651.5 Q654.5,432.8 655.5,430 L656.5,428 Q657.5,426.1 660.5,426.1 H766.5 Q769.5,426.1 770.5,428 L771.5,430 Q772.5,432.8 775.5,432.8 H794.5 V436.6 H773.5 Q770.5,436.6 769.5,434 L768.5,432 Q767.5,430.4 764.5,430.4 H662.5 Q659.5,430.4 658.5,432 L657.5,434 Q656.5,436.6 653.5,436.6 H632.8 Z" />
<line class="k" x1="658" y1="428.1" x2="769" y2="428.1" />
<circle class="k" cx="713.7" cy="411.9" r="8.3" style="stroke-width:2;fill:#fff"/>
<circle class="k" cx="713.7" cy="411.9" r="6" />
<line class="s" x1="711.37" y1="409.57" x2="716.03" y2="414.23" style="stroke-width:1.1"/>
<line class="s" x1="716.03" y1="409.57" x2="711.37" y2="414.23" style="stroke-width:1.1"/>
<line class="s" x1="710.40" y1="411.90" x2="717.00" y2="411.90" style="stroke-width:0.6"/>
<line class="s" x1="713.70" y1="408.60" x2="713.70" y2="415.20" style="stroke-width:0.6"/>
<path class="k" d="M651.4,407.5 V417 H657.5 V407.5" />
<path class="k" d="M777,405 V415 H771 V405" />
<line class="c" x1="587" y1="409.1" x2="651" y2="409.1" />
<rect class="w" x="606" y="407.5" width="16.6" height="3.2" rx="1.5" />
<rect class="w" x="625.4" y="407.5" width="24.6" height="3.2" rx="1.5" />
<line class="c" x1="587" y1="409.1" x2="651" y2="409.1" />
<path class="k" d="M651.4,405 L655,409 L651.4,412" />
</svg></body></html>
